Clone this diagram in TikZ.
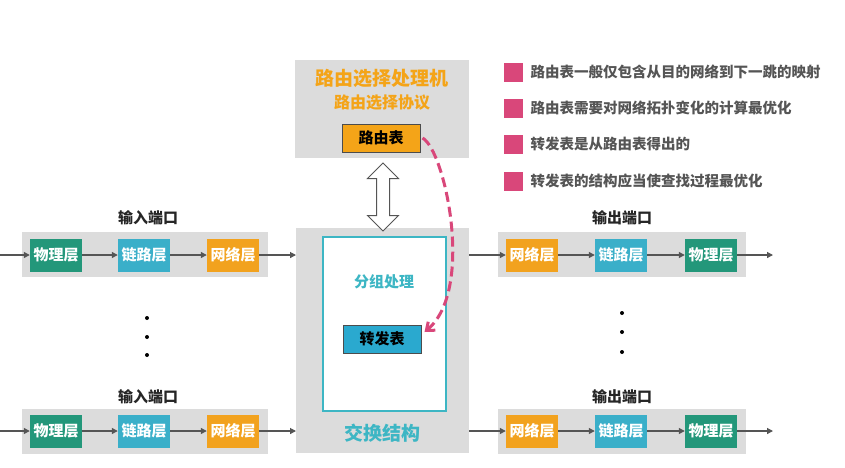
\documentclass[tikz,border=0pt]{standalone}
\usepackage{fontspec}
\setmainfont{Noto Sans CJK SC}
\usetikzlibrary{arrows.meta,shapes.arrows}
\definecolor{physgreen}{HTML}{23977A}
\definecolor{linkteal}{HTML}{3AAFC9}
\definecolor{netorange}{HTML}{F2A21E}
\definecolor{boxgray}{HTML}{DCDCDC}
\definecolor{linegray}{HTML}{555555}
\definecolor{notepink}{HTML}{D9477A}
\definecolor{fwdblue}{HTML}{2AA9CF}
\definecolor{titleorange}{HTML}{F4A418}
\definecolor{fabricteal}{HTML}{3DB6C4}
\definecolor{notegray}{HTML}{555555}
\tikzset{
  layer/.style={minimum width=52pt, minimum height=33pt, inner sep=0pt,
    text=white, font=\bfseries\fontsize{15}{15}\selectfont},
  phys/.style={layer, fill=physgreen},
  linkl/.style={layer, fill=linkteal},
  netl/.style={layer, fill=netorange},
  portbox/.style={fill=boxgray},
  portlabel/.style={font=\bfseries\fontsize{15}{15}\selectfont, text=black!85},
  flow/.style={draw=linegray, line width=1.2pt, -{Triangle[length=6pt,width=6pt]}},
  tablebox/.style={draw=black!70, line width=1pt, minimum width=78pt,
    minimum height=28pt, inner sep=0pt, font=\bfseries\fontsize{15}{15}\selectfont},
  note/.style={anchor=west, text=notegray, font=\bfseries\fontsize{14.5}{15}\selectfont},
  notemark/.style={fill=notepink, minimum size=19pt, inner sep=0pt},
  dot/.style={circle, fill=black, inner sep=0pt, minimum size=4pt}
}
\begin{document}
\begin{tikzpicture}[x=1pt,y=-1pt]
  % Canvas
  \fill[white] (0,0) rectangle (845,467);
  \useasboundingbox (0,0) rectangle (845,467);
  % Routing processor
  \fill[boxgray] (295,60) rectangle (469,158);
  \node[text=titleorange, font=\bfseries\fontsize{19}{19}\selectfont] (proc) at (382,78) {路由选择处理机};
  \node[text=titleorange, font=\bfseries\fontsize{16}{16}\selectfont] (proto) at (382,103) {路由选择协议};
  \node[tablebox, fill=titleorange] (rtab) at (381,138) {路由表};
  % Switch fabric
  \fill[boxgray] (296,228) rectangle (469,453);
  \draw[fabricteal, line width=1.5pt, fill=white] (323,237) rectangle (446,411);
  \node[text=fabricteal, font=\bfseries\fontsize{15}{15}\selectfont] (pkt) at (384,282) {分组处理};
  \node[tablebox, fill=fwdblue] (ftab) at (382,339) {转发表};
  \node[text=fabricteal, font=\bfseries\fontsize{19}{19}\selectfont] (fabric) at (382,433) {交换结构};
  \coordinate (fabW1) at (296,255);
  \coordinate (fabW2) at (296,431);
  \coordinate (fabE1) at (469,255);
  \coordinate (fabE2) at (469,431);
  % Link between processor and fabric
  \node[double arrow, draw=linegray, fill=white, line width=1pt, rotate=90,
    minimum width=30pt, minimum height=68pt, inner sep=6pt,
    double arrow head extend=9pt] (updown) at (383,197) {};
  % Table derivation
  \draw[notepink, line width=3pt, dash pattern=on 10pt off 5pt,
    -{Straight Barb[length=7pt,width=11pt]}]
    ([xshift=2pt]rtab.east) .. controls (445,150) and (475,290) .. ([xshift=3pt,yshift=7pt]ftab.east);
  % Input ports
  \fill[boxgray] (22,232) rectangle (268,277);
  \node[portlabel] (inlab1) at (148,218) {输入端口};
  \node[phys] (inphy1) at (56,255) {物理层};
  \node[linkl] (inlnk1) at (144,255) {链路层};
  \node[netl] (innet1) at (233,255) {网络层};
  \coordinate (insrc1) at (0,255);
  \fill[boxgray] (22,409) rectangle (268,454);
  \node[portlabel] (inlab2) at (148,397) {输入端口};
  \node[phys] (inphy2) at (56,431) {物理层};
  \node[linkl] (inlnk2) at (144,431) {链路层};
  \node[netl] (innet2) at (233,431) {网络层};
  \coordinate (insrc2) at (0,431);
  \draw[flow] (insrc1) -- (inphy1);
  \draw[flow] (inphy1) -- (inlnk1);
  \draw[flow] (inlnk1) -- (innet1);
  \draw[flow] (innet1) -- (fabW1);
  \draw[flow] (insrc2) -- (inphy2);
  \draw[flow] (inphy2) -- (inlnk2);
  \draw[flow] (inlnk2) -- (innet2);
  \draw[flow] (innet2) -- (fabW2);
  \node[dot] (ind1) at (147,318) {};
  \node[dot] (ind2) at (147,337) {};
  \node[dot] (ind3) at (147,355) {};
  % Output ports
  \fill[boxgray] (498,232) rectangle (746,277);
  \node[portlabel] (outlab1) at (622,218) {输出端口};
  \node[netl] (outnet1) at (532,255) {网络层};
  \node[linkl] (outlnk1) at (621,255) {链路层};
  \node[phys] (outphy1) at (711,255) {物理层};
  \coordinate (outdst1) at (773,255);
  \fill[boxgray] (498,409) rectangle (746,454);
  \node[portlabel] (outlab2) at (622,397) {输出端口};
  \node[netl] (outnet2) at (532,431) {网络层};
  \node[linkl] (outlnk2) at (621,431) {链路层};
  \node[phys] (outphy2) at (711,431) {物理层};
  \coordinate (outdst2) at (773,431);
  \draw[flow] (fabE1) -- (outnet1);
  \draw[flow] (outnet1) -- (outlnk1);
  \draw[flow] (outlnk1) -- (outphy1);
  \draw[flow] (outphy1) -- (outdst1);
  \draw[flow] (fabE2) -- (outnet2);
  \draw[flow] (outnet2) -- (outlnk2);
  \draw[flow] (outlnk2) -- (outphy2);
  \draw[flow] (outphy2) -- (outdst2);
  \node[dot] (outd1) at (622,313) {};
  \node[dot] (outd2) at (622,332) {};
  \node[dot] (outd3) at (622,352) {};
  % Notes
  \node[notemark] (m1) at (513,72) {};
  \node[note] (n1) at (527,72) {路由表一般仅包含从目的网络到下一跳的映射};
  \node[notemark] (m2) at (513,108) {};
  \node[note] (n2) at (527,108) {路由表需要对网络拓扑变化的计算最优化};
  \node[notemark] (m3) at (513,144) {};
  \node[note] (n3) at (527,144) {转发表是从路由表得出的};
  \node[notemark] (m4) at (513,181) {};
  \node[note] (n4) at (527,181) {转发表的结构应当使查找过程最优化};
\end{tikzpicture}
\end{document}
